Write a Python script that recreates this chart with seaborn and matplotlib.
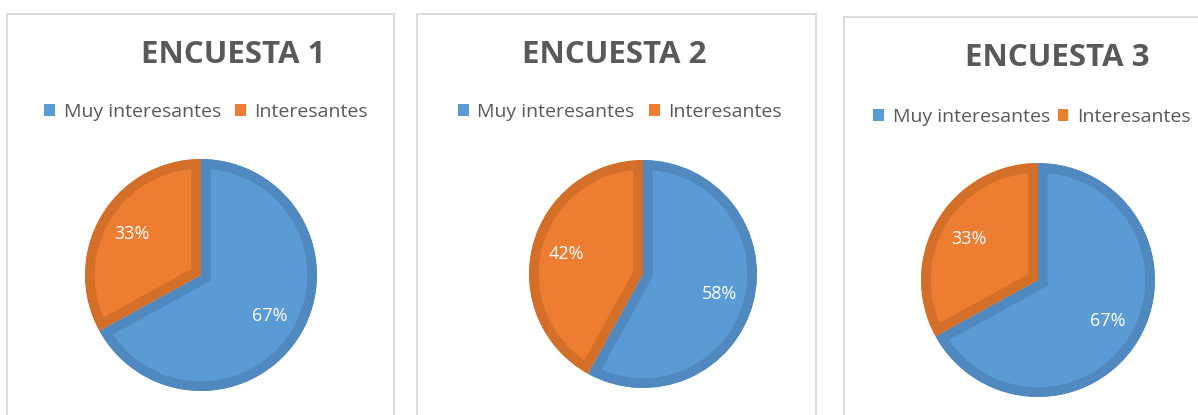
import matplotlib
matplotlib.use("Agg")
import matplotlib.pyplot as plt
from matplotlib.patches import Rectangle, Patch
import seaborn as sns

sns.set_style("white")
plt.rcParams["font.family"] = ["Open Sans", "DejaVu Sans"]

# Survey results (percent of answers)
surveys = ["ENCUESTA 1", "ENCUESTA 2", "ENCUESTA 3"]
categories = ["Muy interesantes", "Interesantes"]
muy_interesantes = [67, 58, 67]
interesantes = [33, 42, 33]

fill_colors = ["#5B9BD5", "#ED7D31"]
edge_colors = ["#4F89BF", "#D46F2A"]
text_grey = "#595959"

W, H = 1198, 415
fig = plt.figure(figsize=(W / 100, H / 100), dpi=100)

# panel frames (px): left, top, right
frames = [(7, 14, 394), (417, 14, 816), (844, 17, 1210)]
# pie centres and radii (px)
pies = [(201, 275, 116), (643, 274, 114), (1038, 280, 117)]
# title centre x and baseline y (px)
title_pos = [(233, 63), (614, 63), (1057, 66)]
# legend centre (px) and column gap
legend_pos = [(206, 112, 0.72), (620, 112, 0.75), (1032, 117, 0.4)]

for (l, t, r) in frames:
    fig.patches.append(Rectangle((l / W, -0.05), (r - l) / W, (H - t) / H + 0.05,
                                 transform=fig.transFigure, fill=False,
                                 edgecolor="#D9D9D9", linewidth=1.3))

for i, name in enumerate(surveys):
    cx, cy, rad = pies[i]
    ax = fig.add_axes([(cx - rad) / W, (H - cy - rad) / H, 2 * rad / W, 2 * rad / H])
    values = [muy_interesantes[i], interesantes[i]]
    wedges, _, autotexts = ax.pie(values, colors=fill_colors, startangle=90,
                                  counterclock=False, autopct="%d%%",
                                  pctdistance=0.69, radius=1.0,
                                  textprops=dict(color="white", fontsize=13))
    # darker rim drawn on the inside of each slice
    for w, ec in zip(wedges, edge_colors):
        w.set_edgecolor(ec)
        w.set_linewidth(14)
        w.set_clip_path(w)
        w.set_clip_on(True)
    ax.set_xlim(-1, 1)
    ax.set_ylim(-1, 1)
    ax.set_aspect("auto")
    ax.axis("off")

    tx, ty = title_pos[i]
    fig.text(tx / W, 1 - ty / H, name, ha="center", va="baseline",
             fontsize=22.5, fontweight="bold", color=text_grey)

    lx, ly, gap = legend_pos[i]
    handles = [Patch(facecolor=c, edgecolor="none") for c in fill_colors]
    fig.legend(handles, categories, loc="center", bbox_to_anchor=(lx / W, 1 - ly / H),
               ncol=2, frameon=False, fontsize=14, labelcolor=text_grey,
               handlelength=0.55, handleheight=0.55, handletextpad=0.45,
               columnspacing=gap, borderpad=0, borderaxespad=0)

fig.savefig("out.png", dpi=100)
